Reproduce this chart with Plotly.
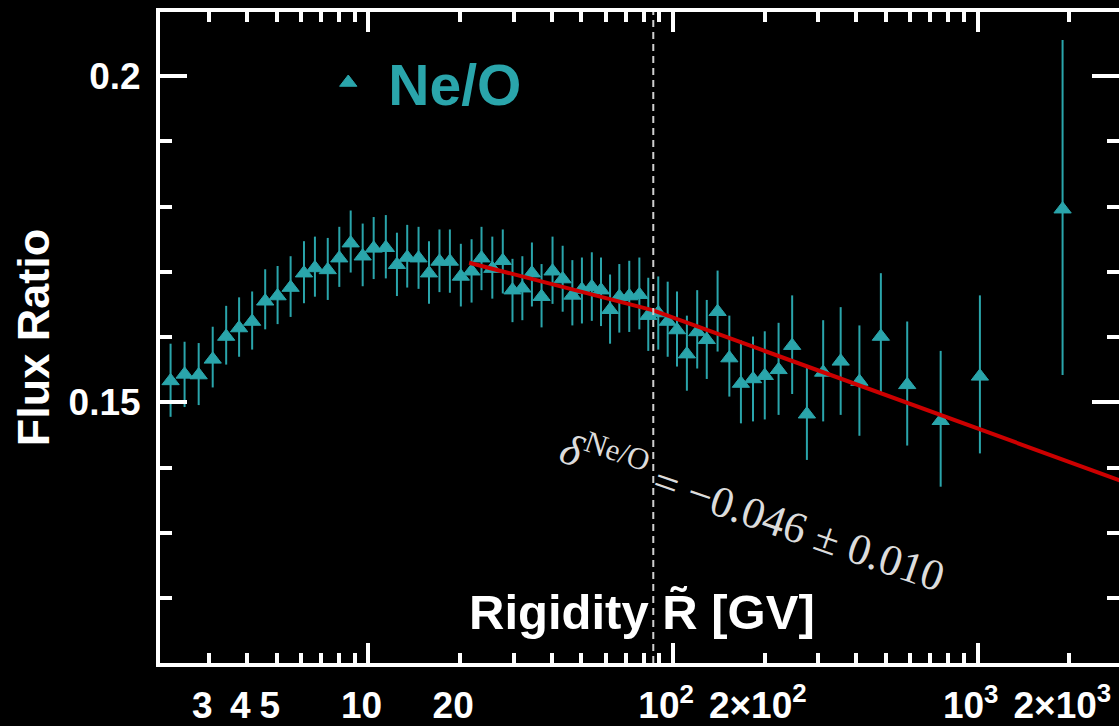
import plotly.graph_objects as go

# Ne/O flux ratio versus rigidity
rigidity = [2.24, 2.49, 2.77, 3.08, 3.41, 3.76, 4.15, 4.58, 5.03, 5.55,
            6.14, 6.67, 7.35, 8.02, 8.74, 9.57, 10.4, 11.4, 12.4, 13.4,
            14.6, 15.8, 17.1, 18.5, 20.1, 21.8, 23.5, 25.5, 27.6, 29.7,
            32.0, 34.4, 37.0, 40.2, 43.4, 46.7, 50.2, 54.1, 58.0, 62.1,
            66.6, 71.8, 77.5, 82.9, 89.4, 96.0, 103, 111, 120, 129,
            140, 153, 167, 183, 200, 222, 246, 275, 311, 355,
            409, 481, 587, 756, 1017, 1900]
ratio = [0.1533, 0.1543, 0.1542, 0.1566, 0.1601, 0.1614, 0.1624, 0.1655, 0.1663, 0.1676,
         0.1698, 0.1706, 0.1703, 0.1721, 0.1744, 0.1724, 0.1736, 0.1737, 0.1711, 0.1722,
         0.1721, 0.1698, 0.1716, 0.1716, 0.1693, 0.1701, 0.1721, 0.1705, 0.1717, 0.1672,
         0.1675, 0.1698, 0.1662, 0.1701, 0.1689, 0.1664, 0.1673, 0.1677, 0.1672, 0.1642,
         0.1662, 0.1663, 0.1665, 0.1633, 0.1637, 0.1624, 0.1611, 0.1574, 0.1608, 0.1596,
         0.1639, 0.1568, 0.1529, 0.1536, 0.1541, 0.1550, 0.1587, 0.1482, 0.1546, 0.1563,
         0.1532, 0.1601, 0.1527, 0.1472, 0.1540, 0.1796]
err_up = [0.0057, 0.0050, 0.0049, 0.0050, 0.0047, 0.0047, 0.0046, 0.0049, 0.0046, 0.0048,
          0.0049, 0.0048, 0.0049, 0.0048, 0.0050, 0.0050, 0.0048, 0.0050, 0.0049, 0.0050,
          0.0048, 0.0049, 0.0049, 0.0049, 0.0050, 0.0049, 0.0048, 0.0049, 0.0048, 0.0048,
          0.0049, 0.0047, 0.0050, 0.0053, 0.0051, 0.0054, 0.0049, 0.0053, 0.0050, 0.0054,
          0.0050, 0.0054, 0.0057, 0.0058, 0.0056, 0.0061, 0.0059, 0.0059, 0.0064, 0.0061,
          0.0063, 0.0065, 0.0066, 0.0065, 0.0068, 0.0072, 0.0077, 0.0074, 0.0080, 0.0083,
          0.0086, 0.0097, 0.0097, 0.0107, 0.0124, 0.0259]
err_down = [0.0055, 0.0050, 0.0046, 0.0043, 0.0043, 0.0044, 0.0043, 0.0043, 0.0043, 0.0045,
            0.0046, 0.0044, 0.0046, 0.0044, 0.0045, 0.0046, 0.0047, 0.0047, 0.0048, 0.0046,
            0.0047, 0.0047, 0.0047, 0.0048, 0.0046, 0.0048, 0.0049, 0.0046, 0.0050, 0.0049,
            0.0049, 0.0051, 0.0047, 0.0050, 0.0050, 0.0046, 0.0052, 0.0052, 0.0055, 0.0052,
            0.0055, 0.0055, 0.0053, 0.0054, 0.0056, 0.0054, 0.0056, 0.0056, 0.0056, 0.0060,
            0.0061, 0.0059, 0.0061, 0.0065, 0.0067, 0.0069, 0.0074, 0.0070, 0.0075, 0.0082,
            0.0083, 0.0089, 0.0093, 0.0101, 0.0118, 0.0254]

# broken power-law fit: start, break, end
fit_rigidity = [21.4, 86.1, 3000]
fit_ratio = [0.1714, 0.1641, 0.1379]
break_rigidity = 86.1

# axis ticks
major_x = [10, 100, 1000]
major_x_text = ["10", "10<sup>2</sup>", "10<sup>3</sup>"]
minor_x = [2, 3, 4, 5, 6, 7, 8, 9, 20, 30, 40, 50, 60, 70, 80, 90,
           200, 300, 400, 500, 600, 700, 800, 900, 2000, 3000]
label_x = [3, 4, 5, 20, 200, 2000]
label_x_text = ["3", "4", "5", "20", "2\u00d710<sup>2</sup>", "2\u00d710<sup>3</sup>"]
major_y = [0.15, 0.2]
major_y_text = ["0.15", "0.2"]

TEAL = "#2aa5ab"
RED = "#cc0000"
SANS = "Liberation Sans, Arial, Helvetica, sans-serif"
SERIF = "Liberation Serif, Times New Roman, serif"

x_range = [0.3155, 3.464]
y_range = [0.1101, 0.2098]

tickfont = dict(family=SANS, size=37, color="white", weight="bold")

fig = go.Figure()
fig.add_trace(go.Scatter(
    x=rigidity, y=ratio, mode="markers", name="Ne/O",
    marker=dict(symbol="triangle-up", size=15, color=TEAL,
                line=dict(color=TEAL, width=1)),
    error_y=dict(type="data", symmetric=False, array=err_up, arrayminus=err_down,
                 color=TEAL, thickness=2, width=0),
))
fig.add_trace(go.Scatter(
    x=fit_rigidity, y=fit_ratio, mode="lines", showlegend=False,
    line=dict(color=RED, width=4), xaxis="x2", yaxis="y2",
))

fig.update_layout(
    width=1119, height=726,
    margin=dict(l=160, r=0, t=12, b=63, autoexpand=False),
    paper_bgcolor="black", plot_bgcolor="black",
    showlegend=True,
    legend=dict(x=0.1546, y=0.891, xanchor="left", yanchor="middle",
                bgcolor="rgba(0,0,0,0)", borderwidth=0, itemwidth=70,
                font=dict(family=SANS, size=57, color=TEAL, weight="bold")),
    xaxis=dict(
        type="log", range=x_range, showgrid=False, zeroline=False, automargin=False,
        showline=True, linecolor="white", linewidth=4, mirror="allticks",
        ticks="inside", ticklen=20, tickwidth=4, tickcolor="white",
        tickmode="array", tickvals=major_x, ticktext=major_x_text,
        tickfont=tickfont, ticklabelstandoff=7, ticklabelshift=-7,
        ticklabeloverflow="allow",
        minor=dict(tickmode="array", tickvals=minor_x, ticks="inside",
                   ticklen=10, tickwidth=4, tickcolor="white", showgrid=False),
    ),
    xaxis2=dict(
        type="log", range=x_range, overlaying="x", side="bottom", anchor="y2",
        showgrid=False, zeroline=False, showline=False, ticks="", automargin=False,
        tickmode="array", tickvals=label_x, ticktext=label_x_text,
        tickfont=tickfont, ticklabelstandoff=17, ticklabelshift=-7,
        ticklabeloverflow="allow",
    ),
    yaxis=dict(
        range=y_range, showgrid=False, zeroline=False, automargin=False,
        showline=True, linecolor="white", linewidth=4,
        ticks="inside", ticklen=27, tickwidth=4, tickcolor="white",
        tickmode="array", tickvals=major_y, ticktext=major_y_text,
        tickfont=tickfont, ticklabelstandoff=8,
        title=dict(text="Flux Ratio", standoff=6,
                   font=dict(family=SANS, size=45, color="white", weight="bold")),
        minor=dict(dtick=0.01, tick0=0, ticks="inside", ticklen=12,
                   tickwidth=4, tickcolor="white", showgrid=False),
    ),
    yaxis2=dict(
        range=y_range, overlaying="y", side="right", anchor="x2", automargin=False,
        showgrid=False, zeroline=False, showline=False, showticklabels=False,
        ticks="inside", ticklen=27, tickwidth=4, tickcolor="white",
        tickmode="array", tickvals=major_y,
        minor=dict(dtick=0.01, tick0=0, ticks="inside", ticklen=12,
                   tickwidth=4, tickcolor="white", showgrid=False),
    ),
    shapes=[dict(type="line", xref="x", yref="paper",
                 x0=break_rigidity, x1=break_rigidity, y0=0, y1=1,
                 line=dict(color="#d0d0d0", width=2, dash="7px,5px"),
                 layer="above")],
    annotations=[
        dict(text="Rigidity R\u0303 [GV]", xref="paper", yref="paper",
             x=0.5026, y=0.078, xanchor="center", yanchor="middle",
             showarrow=False,
             font=dict(family=SANS, size=49, color="white", weight="bold")),
        dict(text="<i>\u03b4</i><sup>Ne/O</sup> = \u22120.046 \u00b1 0.010",
             xref="paper", yref="paper", x=0.619, y=0.236,
             xanchor="center", yanchor="middle", textangle=19,
             showarrow=False,
             font=dict(family=SERIF, size=44, color="#dcdcdc")),
    ],
)

fig.write_html("out.html")
